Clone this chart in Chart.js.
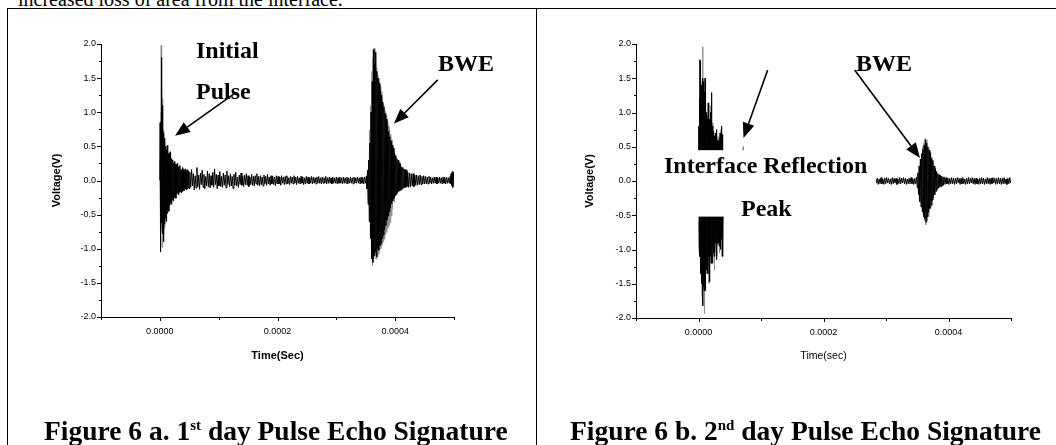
<!DOCTYPE html>
<html>
<head>
<meta charset="utf-8">
<script src="https://cdn.jsdelivr.net/npm/chart.js@4.4.1/dist/chart.umd.min.js"></script>
<style>
  html,body{margin:0;padding:0;background:#fff;}
  body{width:1056px;height:445px;overflow:hidden;position:relative;}
  .line{position:absolute;background:#000;}
  .toptext{position:absolute;left:18px;top:-11px;font:20px/20px 'Liberation Serif',serif;color:#000;white-space:nowrap;}
  .caption{position:absolute;top:417px;font:bold 27.5px/27.5px 'Liberation Serif',serif;color:#000;white-space:nowrap;}
  .caption .sup{font-size:15px;position:relative;top:-10px;}
  canvas{position:absolute;left:0;top:0;}
</style>
</head>
<body>
<div class="toptext">increased loss of area from the interface.</div>
<div class="line" style="left:7px;top:8px;width:1049px;height:1px;"></div>
<div class="line" style="left:7px;top:8px;width:1px;height:437px;"></div>
<div class="line" style="left:536px;top:8px;width:1px;height:437px;"></div>
<canvas id="c1" width="1056" height="445"></canvas>
<canvas id="c2" width="1056" height="445"></canvas>
<div class="caption" style="left:44px;">Figure 6 a. 1<span class="sup">st</span> day Pulse Echo Signature</div>
<div class="caption" style="left:570px;">Figure 6 b. 2<span class="sup">nd</span> day Pulse Echo Signature</div>
<script>
// ===== Data: time in microseconds, voltage in volts =====

// ---- Figure 6a (1st day) ----
// initial pulse, [time, volts]
const day1Pulse = [
 [0,0],[0.5,0.85],[1,-1.05],[1.5,0.55],[2,-0.5],[2.5,1.8],[3,-0.62],[3.5,1.5],[4,-0.72],[4.5,1.1],
 [5,-0.78],[5.5,0.7],[6,-0.9],[6.5,0.68],[7,-0.72],[7.5,0.56],[8,-0.64]
];
// ringing after the pulse: samples every 0.75 us from 8.5 us
const day1RingStartUs = 8.5, day1RingStepUs = 0.75;
const day1RingVolts = [
 0.62,-0.55,0.5,-0.6,0.45,-0.48,0.52,-0.42,0.4,-0.45,
 0.38,-0.36,0.42,-0.33,0.3,-0.35,0.32,-0.28,0.3,-0.3,
 0.26,-0.25,0.28,-0.22,0.24,-0.26,0.22,-0.2,0.25,-0.18,
 0.2,-0.21,0.18,-0.17,0.22,-0.16,0.17,-0.18,0.15,-0.16,
 0.19,-0.14,0.16,-0.15,0.14,-0.13,0.17,-0.12,0.15,-0.14,
 0.13,-0.12,0.16,-0.11,0.14,-0.12
];
// baseline noise between pulse and echo: samples every 1.5 us from 51 us
const day1NoiseStartUs = 51, day1NoiseStepUs = 1.5;
const day1NoiseVolts = [
 0.12,-0.1,0.16,-0.08,0.1,-0.14,0.07,-0.11,0.19,-0.09,
 0.08,-0.13,0.11,-0.06,0.15,-0.1,0.09,-0.12,0.06,-0.08,
 0.14,-0.09,0.1,-0.11,0.07,-0.07,0.12,-0.1,0.17,-0.06,
 0.09,-0.12,0.08,-0.08,0.13,-0.09,0.06,-0.1,0.11,-0.07,
 0.08,-0.11,0.14,-0.06,0.07,-0.09,0.1,-0.08,0.06,-0.12,
 0.09,-0.07,0.12,-0.08,0.05,-0.1,0.08,-0.06,0.11,-0.07,
 0.06,-0.09,0.08,-0.06,0.1,-0.07,0.07,-0.09,0.05,-0.06,
 0.09,-0.07,0.06,-0.08,0.07,-0.05,0.1,-0.07,0.06,-0.08,
 0.07,-0.06,0.05,-0.08,0.08,-0.05,0.06,-0.07,0.09,-0.05,
 0.05,-0.07,0.07,-0.05,0.06,-0.06,0.05,-0.08,0.07,-0.05,
 0.06,-0.05,0.05,-0.07,0.07,-0.04,0.05,-0.06,0.06,-0.05,
 0.07,-0.05,0.04,-0.06,0.06,-0.04,0.05,-0.05,0.07,-0.04,
 0.05,-0.06,0.06,-0.04,0.04,-0.05,0.06,-0.04,0.05,-0.06,
 0.04,-0.05,0.06,-0.04,0.05,-0.05,0.04,-0.04,0.06,-0.05,
 0.05,-0.04,0.04,-0.05,0.05,-0.04,0.06,-0.04,0.04,-0.05,
 0.05,-0.04,0.04,-0.04,0.06,-0.05,0.04,-0.04,0.05,-0.04,
 0.04,-0.05,0.05,-0.04,0.04,-0.04,0.05,-0.05,0.04,-0.04,
 0.05,-0.04,0.04,-0.05,0.05,-0.04,0.04,-0.04,0.05,-0.05,
 0.04,-0.04,0.05,-0.04,0.04,-0.05,0.05,-0.04,0.04,-0.04,
 0.05,-0.04,0.04,-0.05,0.05,-0.04,0.04,-0.05,0.05,-0.04
];
// back-wall echo (BWE), [time, volts]
const day1Echo = [
 [351,0.06],[352,-0.12],[353,0.15],[354,-0.35],[355,0.3],[356,-0.6],[357,0.55],[358,-0.85],[359,1.0],[360,-1.15],
 [361,1.45],[362,-1.2],[363,1.92],[364,-1.1],[365,1.7],[366,-1.05],[367,1.88],[368,-1.12],[369,1.6],[370,-1.0],
 [371,1.5],[372,-1.02],[373,1.42],[374,-0.95],[375,1.32],[376,-0.92],[377,1.25],[378,-0.85],[379,1.15],[380,-0.8],
 [381,1.08],[382,-0.72],[383,0.98],[384,-0.66],[385,0.9],[386,-0.58],[387,0.8],[388,-0.52],[389,0.72],[390,-0.46],
 [391,0.64],[392,-0.4],[393,0.58],[394,-0.34],[395,0.52],[396,-0.3],[397,0.47],[398,-0.26],[399,0.4],[400,-0.22],
 [401,0.36],[402,-0.2],[403,0.32],[404,-0.18],[405,0.3],[406,-0.16],[407,0.26],[408,-0.15],[409,0.24],[410,-0.14],
 [411,0.2],[412,-0.12],[413,0.19],[414,-0.11],[415,0.17],[416,-0.1],[417,0.16],[418,-0.1],[419,0.15],[420,-0.09]
];
// echo tail: samples every 1.5 us from 421.5 us
const day1TailStartUs = 421.5, day1TailStepUs = 1.5;
const day1TailVolts = [
 0.12,-0.1,0.11,-0.09,0.1,-0.08,0.1,-0.09,0.08,-0.07,
 0.08,-0.07,0.07,-0.06,0.08,-0.06,0.06,-0.05,0.07,-0.05,
 0.06,-0.05,0.05,-0.05,0.06,-0.04,0.05,-0.05,0.04,-0.04,
 0.05,-0.04,0.05,-0.05,0.04,-0.04,0.05,-0.04,0.04,-0.05,
 0.05,-0.04,0.04,-0.05,0.05,-0.04,0.04,-0.04,0.06
];
// small burst at the end of the record
const day1End = [[494.5,-0.05],[495,0.1],[496,-0.08],[497,0.13],[498,-0.1],[499,0.12],[500,-0.06]];
// lighter (gray) trace
const day1GrayPulse = [
 [0.3,0.3],[0.8,-0.6],[1.3,1.0],[1.8,-0.7],[2.3,1.98],[2.8,-0.65],[3.3,1.7],[3.8,-0.98],[4.3,1.2],[4.8,-0.8],
 [5.3,0.95],[5.8,-0.78],[6.5,0.74],[7.5,-0.68],[8.5,0.55],[9.5,-0.5],[11,0.5],[12.5,-0.42],[14,0.35],[16,-0.3],[18,0.3],[20,-0.25]
];
const day1GrayEcho = [
 [355.5,-0.3],[356.5,0.74],[357.5,-0.55],[358.5,1.1],[359.5,-1.0],[360.5,1.6],[361.5,-1.25],[362.5,1.8],[363.5,-1.15],[364.5,1.94],
 [365.5,-1.1],[366.5,1.7],[367.5,-1.15],[368.5,1.65],[369.5,-1.12],[370.5,1.55],[371.5,-1.08],[372.5,1.45],[373.5,-1.04],[374.5,1.38],
 [375.5,-1.0],[376.5,1.3],[377.5,-0.95],[378.5,1.22],[379.5,-0.9],[380.5,1.12],[381.5,-0.86],[382.5,1.03],[383.5,-0.8],[384.5,0.95],
 [385.5,-0.76],[386.5,0.86],[387.5,-0.7],[388.5,0.8],[389.5,-0.66],[390.5,0.76],[391.5,-0.62],[392.5,0.68],[393.5,-0.52],[394.5,0.6],
 [395.5,-0.42],[397,0.48],[399,-0.32],[401,0.38],[403,-0.22]
];

// ---- Figure 6b (2nd day) ----
const day2Pulse = [
 [0,0],[0.5,0.8],[1,-0.95],[1.5,1.2],[2,-1.1],[2.5,1.76],[3,-1.35],[3.5,1.65],[4,-1.2],[4.5,1.4],[5,-1.5],[5.5,1.3],[6,-1.65],[6.5,1.5],[7,-1.82],[7.5,1.45],[8,-1.55],[8.5,1.2],[9,-1.6],[9.5,1.3],
 [10,-1.4],[10.5,1.5],[11,-1.6],[11.5,1.1],[12,-1.25],[12.5,1.0],[13,-1.3],[13.5,0.95],[14,-1.2],[14.5,0.9],[15,-1.35],[15.5,1.14],[16,-1.1],[16.5,0.85],[17,-1.25],[17.5,0.9],[18,-1.47],[18.5,0.8],[19,-1.1],[19.5,1.0],
 [20,-1.2],[20.5,1.29],[21,-1.05],[21.5,0.75],[22,-1.2],[22.5,0.8],[23,-0.95],[23.5,0.72],[24,-1.05],[24.5,0.7],[25,-1.1],[25.5,0.66],[26,-0.95],[26.5,0.62],[27,-0.9],[27.5,0.7],[28,-1.0],[28.5,0.75],[29,-1.15],[29.5,0.64],
 [30,-0.92],[30.5,0.6],[31,-0.85],[31.5,0.58],[32,-0.9],[32.5,0.55],[33,-0.95],[33.5,0.62],[34,-0.88],[34.5,0.7],[35,-1.0],[35.5,0.66],[36,-0.85],[36.5,0.8],[37,-0.8],[37.5,0.62],[38,-0.95],[38.4,0.68],[38.8,-1.1],
 [40,0.3],[55,-0.2],[70,0.15],[100,-0.1],[150,0.08],[200,-0.06],[250,0.05]
];
// baseline noise before the echo: samples every 1.5 us from 280 us
const day2NoiseStartUs = 280, day2NoiseStepUs = 1.5;
const day2NoiseVolts = [
 0.04,-0.04,0.05,-0.03,0.04,-0.05,0.03,-0.04,0.05,-0.04,
 0.03,-0.05,0.04,-0.04,0.05,-0.03,0.04,-0.04,0.03,-0.05,
 0.05,-0.04,0.04,-0.03,0.04,-0.05,0.03,-0.04,0.05,-0.04,
 0.04,-0.03,0.05,-0.04,0.04,-0.05,0.03,-0.04,0.04,-0.04,
 0.05,-0.04,0.03,-0.05,0.04,-0.04,0.06
];
const day2Echo = [
 [350,-0.1],[351,0.12],[352,-0.2],[353,0.22],[354,-0.3],[355,0.32],[356,-0.38],[357,0.4],[358,-0.45],[359,0.46],
 [360,-0.52],[361,0.52],[362,-0.55],[363,0.6],[364,-0.6],[365,0.55],[366,-0.52],[367,0.5],[368,-0.45],[369,0.45],
 [370,-0.4],[371,0.4],[372,-0.35],[373,0.33],[374,-0.28],[375,0.3],[376,-0.24],[377,0.22],[378,-0.2],[379,0.18],
 [380,-0.15],[381,0.14],[382,-0.12],[383,0.11],[384,-0.1],[385,0.09],[386,-0.09],[387,0.08],[388,-0.08],[389,0.07],
 [390,-0.07],[391,0.06],[392,-0.06],[393,0.06]
];
// echo tail: samples every 1.5 us from 394.5 us
const day2TailStartUs = 394.5, day2TailStepUs = 1.5;
const day2TailVolts = [
 -0.05,0.05,-0.04,0.04,-0.05,0.04,-0.04,0.05,-0.04,0.04,
 -0.05,0.04,-0.04,0.05,-0.03,0.04,-0.05,0.04,-0.04,0.05,
 -0.04,0.03,-0.05,0.04,-0.04,0.05,-0.04,0.04,-0.03,0.05,
 -0.04,0.04,-0.05,0.04,-0.04,0.03,-0.05,0.04,-0.04,0.05,
 -0.04,0.04,-0.05,0.03,-0.04,0.05,-0.04,0.04,-0.05,0.04,
 -0.04,0.05,-0.03,0.04,-0.05,0.04,-0.04,0.05,-0.04,0.04,
 -0.05,0.04,-0.04,0.05,-0.04,0.03,-0.05,0.04,-0.04,0.05,-0.03
];
const day2GrayPulse = [
 [0.8,-0.6],[1.3,1.78],[2.3,-1.0],[3.8,1.45],[5.0,-1.3],[6.9,1.96],[8.2,-1.5],[9.2,1.3],[9.6,-1.94],[11,1.2],
 [12.8,-1.35],[14.2,0.95],[16.5,-1.5],[18.8,1.1],[20.8,-1.2],[23,0.85],[25.5,-1.3],[27.5,0.7],[29.5,-1.1],[31.5,0.65],
 [33.5,-1.05],[35.5,0.75],[37.3,-1.1],[38.2,0.6],[40,-0.2]
];
// the small interface-reflection peak
const day2GrayInterface = [[70.5,-0.1],[71.3,0.5],[72,-0.1]];
const day2GrayEcho = [
 [357.5,-0.35],[358.5,0.5],[359.5,-0.5],[360.5,0.55],[361.5,-0.58],[362.5,0.62],[363.5,-0.64],[364.5,0.6],[365.5,-0.58],[366.5,0.55],
 [367.5,-0.52],[368.5,0.48],[369.5,-0.46],[370.5,0.42],[371.5,-0.4],[372.5,0.35],[373.5,-0.36],[374.5,0.3],[375.5,-0.28]
];

const xLabelledTicks = [0, 200, 400];   // microseconds carrying a label
const voltRange = [-2, 2];
const timeRangeUs = [-100, 500];

// ===== helpers =====
const fromPairs = arr => arr.map(p => ({x: p[0], y: p[1]}));
const fromSamples = (t0, dt, volts) => volts.map((v, i) => ({x: t0 + i * dt, y: v}));

const tickPlugin = {
  id: 'minorMajorTicks',
  afterDraw(chart) {
    const ctx = chart.ctx, xs = chart.scales.x, ys = chart.scales.y;
    ctx.save();
    ctx.strokeStyle = '#000';
    ctx.lineWidth = 1;
    ctx.beginPath();
    ys.ticks.forEach(t => {
      const py = Math.round(ys.getPixelForValue(t.value)) + 0.5;
      const major = Math.abs(t.value * 2 - Math.round(t.value * 2)) < 1e-9;
      const len = major ? 4 : 2;
      ctx.moveTo(ys.right, py); ctx.lineTo(ys.right - len, py);
    });
    xs.ticks.forEach(t => {
      const px = Math.round(xs.getPixelForValue(t.value)) + 0.5;
      const major = xLabelledTicks.includes(Math.round(t.value));
      const len = major ? 4 : 3;
      ctx.moveTo(px, xs.top); ctx.lineTo(px, xs.top + len);
    });
    ctx.stroke();
    ctx.restore();
  }
};

function arrow(ctx, x1, y1, x2, y2) {
  const ang = Math.atan2(y2 - y1, x2 - x1);
  const hl = 15, hw = 6;
  const bx = x2 - hl * Math.cos(ang), by = y2 - hl * Math.sin(ang);
  ctx.beginPath();
  ctx.moveTo(x1, y1); ctx.lineTo(bx, by);
  ctx.lineWidth = 1.6; ctx.stroke();
  ctx.beginPath();
  ctx.moveTo(x2, y2);
  ctx.lineTo(bx + hw * Math.sin(ang), by - hw * Math.cos(ang));
  ctx.lineTo(bx - hw * Math.sin(ang), by + hw * Math.cos(ang));
  ctx.closePath(); ctx.fill();
}

function annotationPlugin(notes) {
  return {
    id: 'notes',
    afterDatasetsDraw(chart) {
      const ctx = chart.ctx, xs = chart.scales.x, ys = chart.scales.y;
      const X = v => xs.getPixelForValue(v), Y = v => ys.getPixelForValue(v);
      ctx.save();
      if (notes.mask) {
        const m = notes.mask;
        ctx.fillStyle = '#fff';
        ctx.fillRect(X(m.t0), Y(m.v1), X(m.t1) - X(m.t0), Y(m.v0) - Y(m.v1));
      }
      ctx.fillStyle = '#000'; ctx.strokeStyle = '#000';
      ctx.font = "bold 24px 'Liberation Serif', serif";
      ctx.textBaseline = 'alphabetic'; ctx.textAlign = 'left';
      notes.texts.forEach(n => ctx.fillText(n.text, X(n.t), Y(n.v)));
      notes.arrows.forEach(a => arrow(ctx, X(a.t0), Y(a.v0), X(a.t1), Y(a.v1)));
      ctx.restore();
    }
  };
}

const traceStyle = (color, order) => ({borderColor: color, borderWidth: 1, pointRadius: 0, borderJoinStyle: 'bevel', tension: 0, order});

function makeChart(id, darkPts, grayParts, pad, yW, xH, xTitle, xTitleFont, notes) {
  const datasets = grayParts.map(g => Object.assign({data: g}, traceStyle('#8e8e8e', 2)));
  datasets.push(Object.assign({data: darkPts}, traceStyle('#000', 1)));
  return new Chart(document.getElementById(id), {
    type: 'line',
    data: {datasets},
    options: {
      responsive: false, animation: false, devicePixelRatio: 1,
      layout: {padding: pad},
      plugins: {legend: {display: false}, tooltip: {enabled: false}},
      events: [],
      scales: {
        x: {
          type: 'linear', min: timeRangeUs[0], max: timeRangeUs[1],
          grid: {display: false, drawTicks: false},
          border: {display: true, color: '#000', width: 1},
          ticks: {
            stepSize: 100, autoSkip: false, maxRotation: 0, padding: 9, color: '#000',
            font: {family: "'Liberation Sans', Arial, sans-serif", size: 9},
            callback: v => xLabelledTicks.includes(Math.round(v)) ? (v / 1e6).toFixed(4) : ''
          },
          title: {display: true, text: xTitle, color: '#000', padding: 0, font: xTitleFont},
          afterFit: s => { s.height = xH; }
        },
        y: {
          min: voltRange[0], max: voltRange[1],
          grid: {display: false, drawTicks: false},
          border: {display: true, color: '#000', width: 1},
          ticks: {
            stepSize: 0.25, autoSkip: false, padding: 5, color: '#000',
            font: {family: "'Liberation Sans', Arial, sans-serif", size: 9},
            callback: v => Math.abs(v * 2 - Math.round(v * 2)) < 1e-9 ? v.toFixed(1) : ''
          },
          title: {display: true, text: 'Voltage(V)', color: '#000', padding: 0,
                  font: {family: "'Liberation Sans', Arial, sans-serif", size: 11, weight: 'bold'}},
          afterFit: s => { s.width = yW; }
        }
      }
    },
    plugins: [tickPlugin, annotationPlugin(notes)]
  });
}

const day1Dark = [].concat(
  fromPairs(day1Pulse),
  fromSamples(day1RingStartUs, day1RingStepUs, day1RingVolts),
  fromSamples(day1NoiseStartUs, day1NoiseStepUs, day1NoiseVolts),
  fromPairs(day1Echo),
  fromSamples(day1TailStartUs, day1TailStepUs, day1TailVolts),
  fromPairs(day1End)
);
const day2Dark = [].concat(
  fromPairs(day2Pulse),
  fromSamples(day2NoiseStartUs, day2NoiseStepUs, day2NoiseVolts),
  fromPairs(day2Echo),
  fromSamples(day2TailStartUs, day2TailStepUs, day2TailVolts)
);

makeChart('c1', day1Dark, [fromPairs(day1GrayPulse), fromPairs(day1GrayEcho)],
  {left: 50, right: 602, top: 44, bottom: 82}, 51, 46,
  'Time(Sec)', {family: "'Liberation Sans', Arial, sans-serif", size: 11, weight: 'bold'},
  {
    texts: [
      {text: 'Initial', t: 61.5, v: 1.795},
      {text: 'Pulse', t: 61.5, v: 1.194},
      {text: 'BWE', t: 473, v: 1.609}
    ],
    arrows: [
      {t0: 129, v0: 1.288, t1: 25.8, v1: 0.656},
      {t0: 472.4, v0: 1.475, t1: 398, v1: 0.834}
    ]
  });

makeChart('c2', day2Dark, [fromPairs(day2GrayPulse), fromPairs(day2GrayInterface), fromPairs(day2GrayEcho)],
  {left: 583, right: 45, top: 44, bottom: 83}, 53, 44,
  'Time(sec)', {family: "'Liberation Sans', Arial, sans-serif", size: 10.5, weight: 'normal'},
  {
    mask: {t0: -55, t1: 284, v0: -0.52, v1: 0.45},
    texts: [
      {text: 'BWE', t: 252, v: 1.61},
      {text: 'Interface Reflection', t: -55.2, v: 0.111},
      {text: 'Peak', t: 68, v: -0.504}
    ],
    arrows: [
      {t0: 249.8, v0: 1.62, t1: 354.4, v1: 0.336},
      {t0: 110.7, v0: 1.62, t1: 72, v1: 0.628}
    ]
  });
</script>
</body>
</html>
